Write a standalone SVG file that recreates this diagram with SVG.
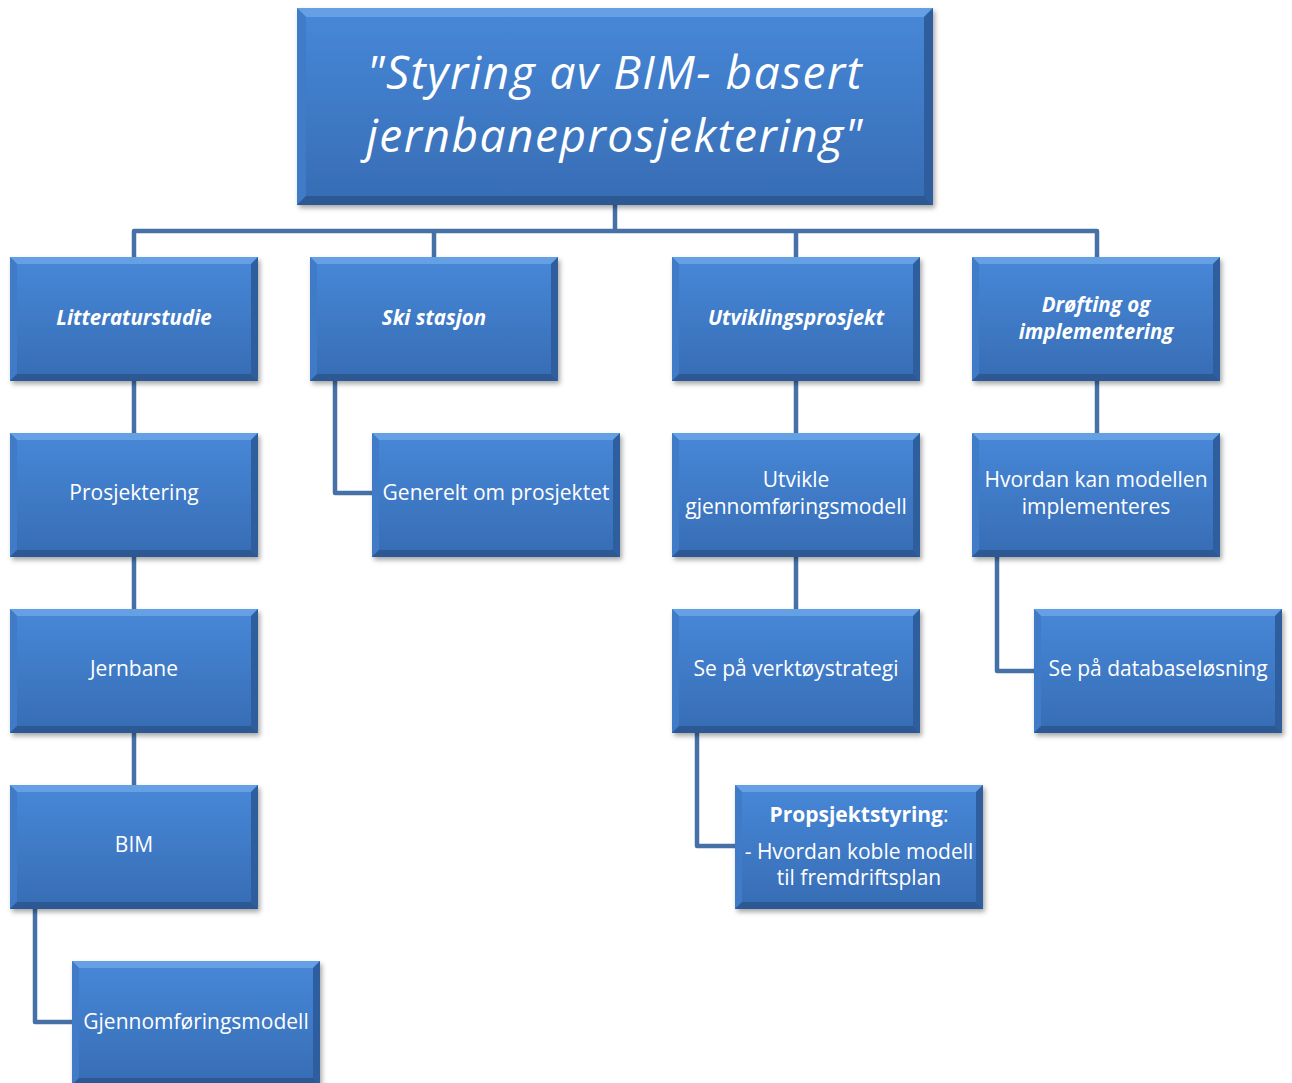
<svg xmlns="http://www.w3.org/2000/svg" xmlns:xlink="http://www.w3.org/1999/xlink" width="1292" height="1083" viewBox="0 0 1292 1083">
  <style>
    .lbl { font-family: "Open Sans", "Noto Sans", "Liberation Sans", sans-serif; fill: #ffffff; text-anchor: middle; font-size: 21px; }
    .head { font-weight: bold; font-style: italic; font-size: 20.5px; }
    .title { font-style: italic; font-size: 46px; letter-spacing: 1.5px; }
    .b { font-weight: bold; }
    .wire { fill: none; stroke: #4571a7; stroke-width: 4.5; stroke-linejoin: round; }
  </style>
  <defs>
    <linearGradient id="face" x1="0" y1="0" x2="0" y2="1">
      <stop offset="0" stop-color="#4788d8"/>
      <stop offset="1" stop-color="#376cb4"/>
    </linearGradient>
    <filter id="shadow" x="-10%" y="-10%" width="125%" height="130%">
      <feDropShadow dx="2" dy="3" stdDeviation="2.5" flood-color="#000" flood-opacity="0.35"/>
    </filter>
    <!-- standard bevelled box, 248 x 124 -->
    <g id="box">
      <rect x="0" y="0" width="248" height="124" fill="url(#face)" filter="url(#shadow)"/>
      <polygon points="0,0 248,0 241,7 7,7" fill="#65a0e4"/>
      <polygon points="0,0 7,7 7,117 0,124" fill="#3f7bc6"/>
      <polygon points="248,0 241,7 241,117 248,124" fill="#2f5e9f"/>
      <polygon points="0,124 248,124 241,117 7,117" fill="#2c5894"/>
    </g>
    <!-- large title box, 636 x 197 -->
    <g id="bigbox">
      <rect x="0" y="0" width="636" height="197" fill="url(#face)" filter="url(#shadow)"/>
      <polygon points="0,0 636,0 627,9 9,9" fill="#65a0e4"/>
      <polygon points="0,0 9,9 9,188 0,197" fill="#3f7bc6"/>
      <polygon points="636,0 627,9 627,188 636,197" fill="#2f5e9f"/>
      <polygon points="0,197 636,197 627,188 9,188" fill="#2c5894"/>
    </g>
  </defs>

  <rect width="1292" height="1083" fill="#ffffff"/>

  <!-- connectors -->
  <g id="connectors">
    <path class="wire" d="M615,205 V231 M134,257 V231 H1097 V257 M434,231 V257 M796,231 V257"/>
    <path class="wire" d="M134,381 V433 M134,557 V609 M134,733 V785"/>
    <path class="wire" d="M35,909 V1022 H72"/>
    <path class="wire" d="M335,381 V493 H372"/>
    <path class="wire" d="M796,381 V433 M796,557 V609"/>
    <path class="wire" d="M697,733 V846 H735"/>
    <path class="wire" d="M1097,381 V433"/>
    <path class="wire" d="M997,557 V671 H1034"/>
  </g>

  <!-- nodes -->
  <g id="root">
    <use xlink:href="#bigbox" x="297" y="8"/>
    <text class="lbl title" x="615" y="89">"Styring av BIM- basert<tspan x="615" y="152">jernbaneprosjektering"</tspan></text>
  </g>

  <g id="litteraturstudie">
    <use xlink:href="#box" x="10" y="257"/>
    <text class="lbl head" x="134" y="325">Litteraturstudie</text>
  </g>
  <g id="ski-stasjon">
    <use xlink:href="#box" x="310" y="257"/>
    <text class="lbl head" x="434" y="325">Ski stasjon</text>
  </g>
  <g id="utviklingsprosjekt">
    <use xlink:href="#box" x="672" y="257"/>
    <text class="lbl head" x="796" y="325">Utviklingsprosjekt</text>
  </g>
  <g id="drofting">
    <use xlink:href="#box" x="972" y="257"/>
    <text class="lbl head" x="1096" y="312">Drøfting og<tspan x="1096" y="339">implementering</tspan></text>
  </g>

  <g id="prosjektering">
    <use xlink:href="#box" x="10" y="433"/>
    <text class="lbl" x="134" y="500">Prosjektering</text>
  </g>
  <g id="generelt">
    <use xlink:href="#box" x="372" y="433"/>
    <text class="lbl" x="496" y="500">Generelt om prosjektet</text>
  </g>
  <g id="utvikle">
    <use xlink:href="#box" x="672" y="433"/>
    <text class="lbl" x="796" y="487">Utvikle<tspan x="796" y="514">gjennomføringsmodell</tspan></text>
  </g>
  <g id="hvordan">
    <use xlink:href="#box" x="972" y="433"/>
    <text class="lbl" x="1096" y="487">Hvordan kan modellen<tspan x="1096" y="514">implementeres</tspan></text>
  </g>

  <g id="jernbane">
    <use xlink:href="#box" x="10" y="609"/>
    <text class="lbl" x="134" y="676">Jernbane</text>
  </g>
  <g id="verktoystrategi">
    <use xlink:href="#box" x="672" y="609"/>
    <text class="lbl" x="796" y="676">Se på verktøystrategi</text>
  </g>
  <g id="databaselosning">
    <use xlink:href="#box" x="1034" y="609"/>
    <text class="lbl" x="1158" y="676">Se på databaseløsning</text>
  </g>

  <g id="bim">
    <use xlink:href="#box" x="10" y="785"/>
    <text class="lbl" x="134" y="852">BIM</text>
  </g>
  <g id="prosjektstyring">
    <use xlink:href="#box" x="735" y="785"/>
    <text class="lbl" x="859" y="822"><tspan class="b">Propsjektstyring</tspan>:<tspan x="859" y="859">- Hvordan koble modell</tspan><tspan x="859" y="885">til fremdriftsplan</tspan></text>
  </g>

  <g id="gjennomforingsmodell">
    <use xlink:href="#box" x="72" y="961"/>
    <text class="lbl" x="196" y="1029">Gjennomføringsmodell</text>
  </g>
</svg>
